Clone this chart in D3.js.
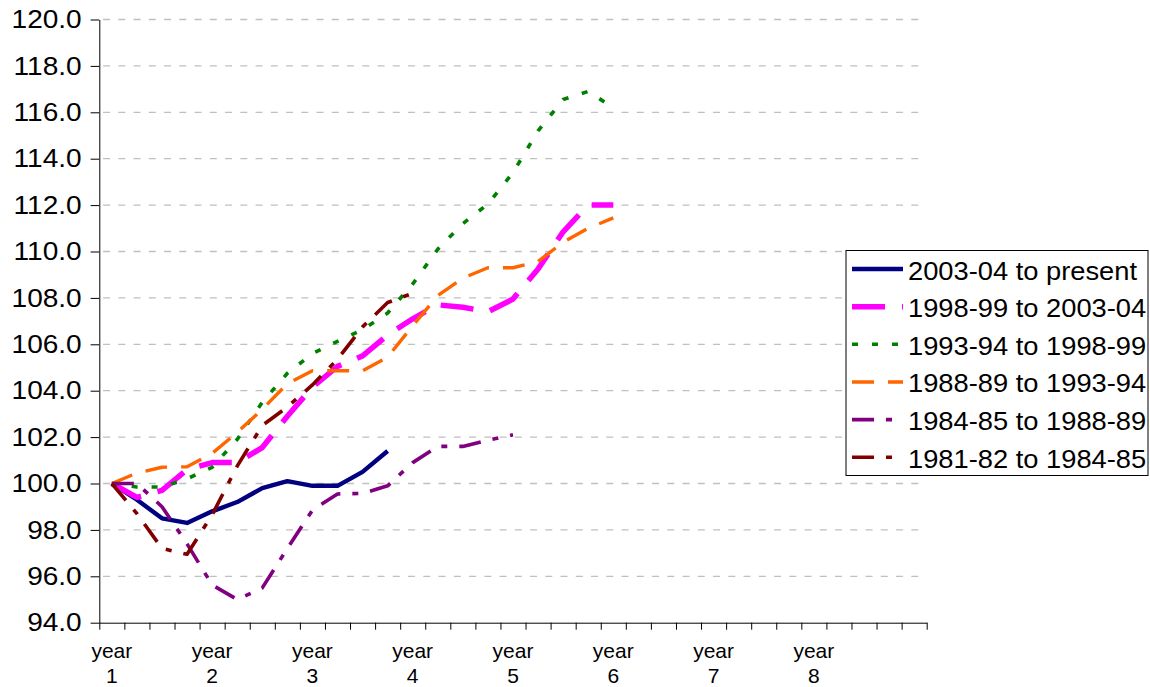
<!DOCTYPE html>
<html>
<head>
<meta charset="utf-8">
<script src="https://cdn.jsdelivr.net/npm/d3@7"></script>
<style>
  html, body { margin: 0; padding: 0; background: #fff; }
  svg { display: block; }
  text { font-family: "Liberation Sans", Arial, sans-serif; fill: #000; }
</style>
</head>
<body>
<div id="chart"></div>
<script>
// ---- data ----
const categories = [
  "year 1", "", "", "", "year 2", "", "", "", "year 3", "", "", "",
  "year 4", "", "", "", "year 5", "", "", "", "year 6", "", "", "",
  "year 7", "", "", "", "year 8", "", "", "", ""
];
const yTicks = [94, 96, 98, 100, 102, 104, 106, 108, 110, 112, 114, 116, 118, 120];

const seriesNames = [
  "2003-04 to present",
  "1998-99 to 2003-04",
  "1993-94 to 1998-99",
  "1988-89 to 1993-94",
  "1984-85 to 1988-89",
  "1981-82 to 1984-85"
];
const s2003 = [100, 99.3, 98.5, 98.3, 98.8, 99.2, 99.8, 100.1, 99.9, 99.9, 100.5, 101.4];
const s1998 = [100, 99.4, 99.7, 100.6, 100.9, 100.9, 101.55, 102.9, 104.15, 105.05, 105.5, 106.4,
               107.1, 107.7, 107.6, 107.4, 107.95, 109.25, 110.85, 112.0, 112.0];
const s1993 = [100, 99.85, 99.85, 100.2, 100.7, 101.9, 103.5, 104.75, 105.6, 106.13, 106.63, 107.35,
               108.6, 110.1, 111.2, 112.05, 113.4, 115.2, 116.55, 116.9, 116.2];
const s1988 = [100, 100.45, 100.7, 100.72, 101.3, 102.2, 103.2, 104.3, 104.86, 104.86, 104.86, 105.45,
               106.8, 108.1, 108.85, 109.3, 109.3, 109.57, 110.4, 111.0, 111.45];
const s1984 = [100, 100, 99.0, 97.4, 95.63, 95.0, 95.5, 97.2, 98.85, 99.55, 99.57, 99.9,
               100.9, 101.6, 101.6, 101.87, 102.1];
const s1981 = [100, 98.7, 97.2, 96.95, 98.65, 100.75, 102.5, 103.3, 104.25, 105.35, 106.75, 107.8, 108.2];

const seriesValues = [s2003, s1998, s1993, s1988, s1984, s1981];
const seriesColors = ["#000080", "#FF00FF", "#008000", "#FF6600", "#800080", "#800000"];
const seriesWidths = [4.4, 5.5, 3.6, 3.4, 3.6, 3.6];
const seriesDash = [null, "33,17", "6,14", "22,14", "22,12,6,12", "22,12,6,12"];

// ---- layout ----
const W = 1150, H = 687;
const plotL = 99.3, plotR = 926.7, plotT = 19.5, plotB = 622.7;

const svg = d3.select("#chart").append("svg").attr("width", W).attr("height", H);

const x = d3.scaleBand().domain(d3.range(categories.length)).range([plotL, plotR]).padding(0);
const xb = d3.scaleLinear().domain([0, categories.length]).range([plotL, plotR]);
const y = d3.scaleLinear().domain([94, 120]).range([plotB, plotT]);
const cx = i => x(i) + x.bandwidth() / 2;

// gridlines
svg.append("g").selectAll("line")
  .data(yTicks.filter(d => d > 94))
  .join("line")
  .attr("x1", plotL).attr("x2", plotR)
  .attr("y1", d => y(d)).attr("y2", d => y(d))
  .attr("stroke", "#C0C0C0").attr("stroke-width", 1.3)
  .attr("stroke-dasharray", "7,8.25").attr("stroke-dashoffset", 11.5);

// y axis
const yLabelScale = 1.1;
const yAxis = svg.append("g").attr("transform", `translate(${plotL},0)`)
  .call(d3.axisLeft(y).tickValues(yTicks).tickFormat(d3.format(".1f"))
    .tickSize(8.7).tickSizeOuter(0).tickPadding(17.6 / yLabelScale - 8.7));
yAxis.select(".domain").attr("stroke", "#000");
yAxis.selectAll(".tick line").attr("stroke", "#000");
yAxis.selectAll("text")
  .attr("font-size", 25.5)
  .attr("font-family", '"Liberation Sans", Arial, sans-serif')
  .attr("transform", `scale(${yLabelScale},1)`);

// x axis (ticks at category boundaries)
const xAxis = svg.append("g").attr("transform", `translate(0,${plotB})`)
  .call(d3.axisBottom(xb).tickValues(d3.range(0, categories.length + 1)).tickFormat("").tickSize(7).tickSizeOuter(0));
xAxis.select(".domain").attr("stroke", "#000");
xAxis.selectAll(".tick line").attr("stroke", "#000");

// x category labels (two lines)
const xl = svg.append("g").selectAll("text")
  .data(categories.map((c, i) => ({c, i})).filter(d => d.c !== ""))
  .join("text")
  .attr("text-anchor", "middle")
  .attr("font-size", 21);
xl.append("tspan").attr("x", d => cx(d.i)).attr("y", 658).text(d => d.c.split(" ")[0]);
xl.append("tspan").attr("x", d => cx(d.i)).attr("y", 683).text(d => d.c.split(" ")[1]);

// lines
const line = d3.line().x((d, i) => cx(i)).y(d => y(d));
svg.append("g").selectAll("path")
  .data(seriesValues)
  .join("path")
  .attr("d", d => line(d))
  .attr("fill", "none")
  .attr("stroke", (d, i) => seriesColors[i])
  .attr("stroke-width", (d, i) => seriesWidths[i])
  .attr("stroke-dasharray", (d, i) => seriesDash[i])
  .attr("stroke-linejoin", "round")
  .attr("stroke-linecap", "butt");

// legend
const lg = svg.append("g");
lg.append("rect").attr("x", 846).attr("y", 250.5).attr("width", 302).attr("height", 225)
  .attr("fill", "#fff").attr("stroke", "#000").attr("stroke-width", 1);
const legendY0 = 269, legendDy = 37.65;
const items = lg.selectAll("g.item").data(seriesNames).join("g").attr("class", "item")
  .attr("transform", (d, i) => `translate(0,${legendY0 + i * legendDy})`);
items.append("line").attr("x1", 852).attr("x2", 903).attr("y1", 0).attr("y2", 0)
  .attr("stroke", (d, i) => seriesColors[i])
  .attr("stroke-width", (d, i) => seriesWidths[i])
  .attr("stroke-dasharray", (d, i) => seriesDash[i]);
items.append("g").attr("transform", "translate(908,10.5) scale(1.05,1)")
  .append("text").attr("x", 0).attr("y", 0).attr("font-size", 26).text(d => d);
</script>
</body>
</html>
